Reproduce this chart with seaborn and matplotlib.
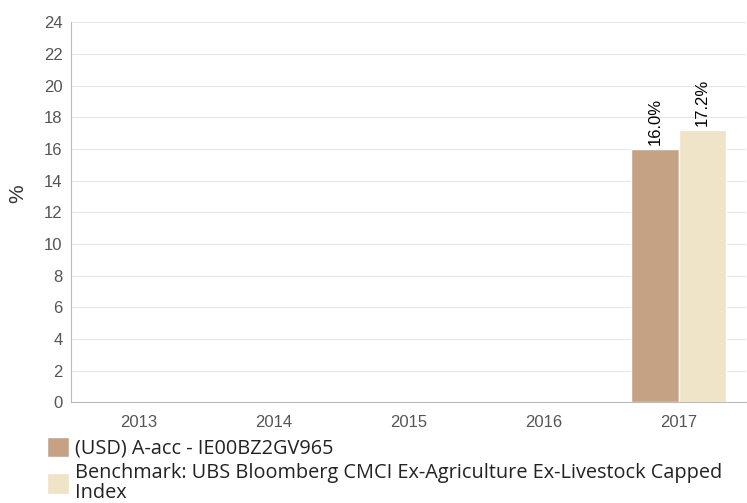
import numpy as np
import pandas as pd
import seaborn as sns
import matplotlib.pyplot as plt

years = ["2013", "2014", "2015", "2016", "2017"]
fund_values = [np.nan, np.nan, np.nan, np.nan, 16.0]
bench_values = [np.nan, np.nan, np.nan, np.nan, 17.2]
series_names = ["(USD) A-acc - IE00BZ2GV965",
                "Benchmark: UBS Bloomberg CMCI Ex-Agriculture Ex-Livestock Capped\nIndex"]
colors = ["#C4A283", "#EFE3C8"]

df = pd.DataFrame({
    "year": years * 2,
    "value": fund_values + bench_values,
    "series": [series_names[0]] * 5 + [series_names[1]] * 5,
})

sns.set_style("white")
plt.rcParams["font.family"] = ["Liberation Sans", "DejaVu Sans"]

fig = plt.figure(figsize=(7.47, 5.03), dpi=100)
ax = fig.add_axes([0.095, 0.2, 0.904, 0.756])
sns.barplot(data=df, x="year", y="value", hue="series", palette=colors,
            width=0.7, ax=ax, saturation=1, legend=True)

for cont in ax.containers:
    for bar in cont:
        h = bar.get_height()
        if np.isnan(h) or h == 0:
            continue
        ax.text(bar.get_x() + bar.get_width() / 2, h + 0.25, f"{h:.1f}%",
                rotation=90, ha="center", va="bottom", fontsize=12, color="black")

ax.set_ylim(0, 24)
ax.set_yticks(range(0, 25, 2))
ax.yaxis.grid(True, color="#e6e6e6", lw=0.8)
ax.set_axisbelow(True)
ax.set_xlabel("")
ax.set_ylabel("%", fontsize=15, color="#333333")
ax.yaxis.set_label_coords(-0.065, 0.55)
ax.tick_params(axis="both", labelsize=12, colors="#555555", length=0)
ax.tick_params(axis="x", pad=9)
ax.tick_params(axis="y", pad=6)
for s in ["top", "right"]:
    ax.spines[s].set_visible(False)
for s in ["left", "bottom"]:
    ax.spines[s].set_color("#bbbbbb")

leg = ax.legend(loc="upper left", bbox_to_anchor=(-0.047, -0.07), frameon=False,
                prop={"family": ["Open Sans", "DejaVu Sans"], "size": 14.3},
                handlelength=1.1, handleheight=1.2, handletextpad=0.3,
                labelspacing=0.2, borderaxespad=0)
for t in leg.get_texts():
    t.set_color("#222222")
    t.set_linespacing(1.0)

fig.savefig("out.png", dpi=100)
